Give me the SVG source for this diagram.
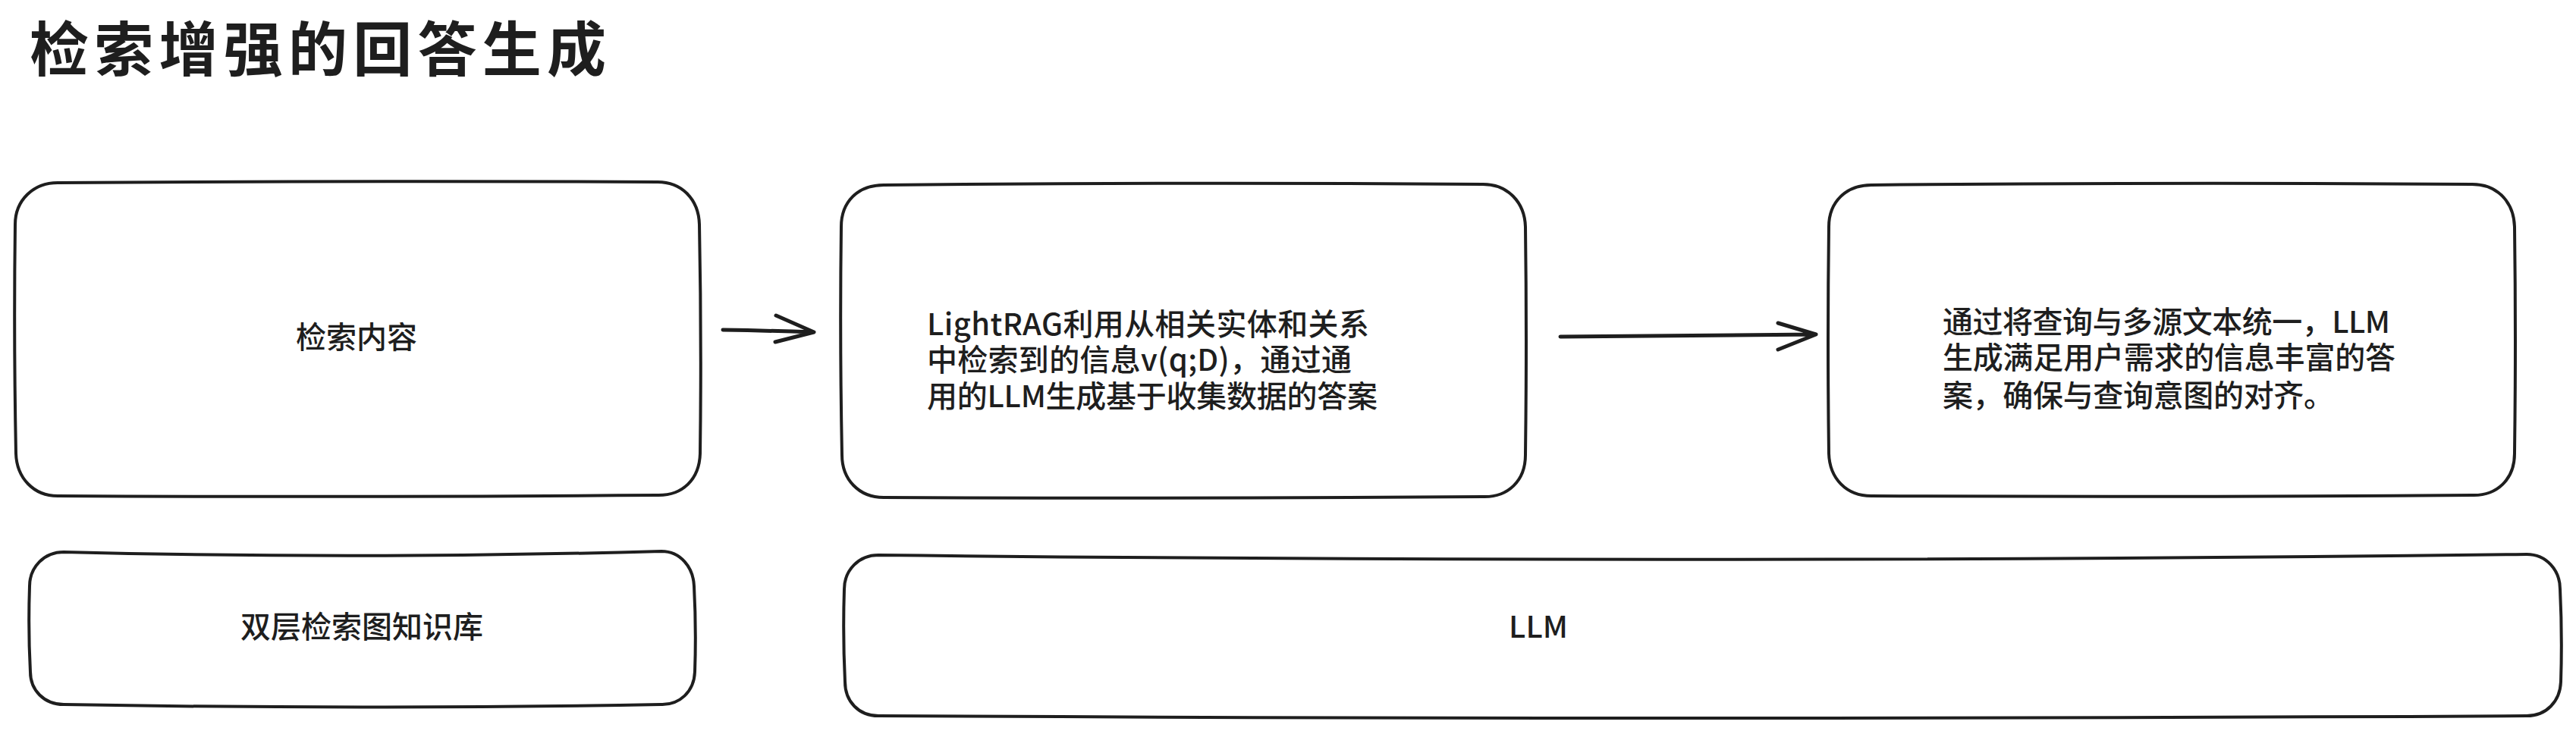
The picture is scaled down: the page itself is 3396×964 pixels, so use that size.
<svg xmlns="http://www.w3.org/2000/svg" width="3396" height="964" viewBox="0 0 3396 964">
<style>
.box{fill:#ffffff;stroke:#1e1e1e;stroke-width:4;stroke-linejoin:round}
.con{fill:none;stroke:#1e1e1e;stroke-width:5;stroke-linecap:round;stroke-linejoin:round}
.t{font-family:"Noto Sans CJK SC","Noto Sans",sans-serif;font-size:40px;fill:#1e1e1e;font-weight:500}
.c{text-anchor:middle}
.title{font-family:"Noto Sans CJK SC","Noto Sans",sans-serif;font-size:78px;fill:#1e1e1e;font-weight:700}
</style>
<rect width="3396" height="964" fill="#ffffff"/>
<g id="title">
<text class="title" x="39" y="94" textLength="760" lengthAdjust="spacing">检索增强的回答生成</text>
</g>
<g id="node-retrieval-content">
<path class="box" d="M76,241 Q470,238 867,240 C898,240 921,262 922,296 Q925,447 923,598 C922,632 900,654 866,653 Q470,656 76,654 C44,654 22,630 21,598 Q18,447 20,296 C20,264 44,241 76,241 Z"/>
<text class="t c" x="470" y="459">检索内容</text>
</g>
<g id="node-lightrag">
<path class="box" d="M1165,244 Q1560,240 1955,243 C1988,243 2010,267 2011,299 Q2013,450 2011,600 C2011,634 1988,656 1955,655 Q1560,658 1165,656 C1132,656 1110,632 1110,600 Q1107,450 1109,299 C1109,266 1131,244 1165,244 Z"/>
<text class="t"><tspan x="1222" y="442" textLength="583" lengthAdjust="spacing">LightRAG利用从相关实体和关系</tspan><tspan x="1222" y="489" textLength="560" lengthAdjust="spacing">中检索到的信息v(q;D)，通过通</tspan><tspan x="1222" y="537" textLength="594" lengthAdjust="spacing">用的LLM生成基于收集数据的答案</tspan></text>
</g>
<g id="node-answer">
<path class="box" d="M2467,244 Q2860,240 3259,243 C3292,243 3314,266 3315,299 Q3317,450 3315,598 C3315,632 3292,654 3259,653 Q2860,656 2467,654 C2434,654 2412,631 2411,598 Q2409,450 2411,299 C2411,266 2434,244 2467,244 Z"/>
<text class="t"><tspan x="2561" y="439" textLength="590" lengthAdjust="spacing">通过将查询与多源文本统一，LLM</tspan><tspan x="2561" y="486" textLength="597" lengthAdjust="spacing">生成满足用户需求的信息丰富的答</tspan><tspan x="2561" y="536" textLength="516" lengthAdjust="spacing">案，确保与查询意图的对齐。</tspan></text>
</g>
<g id="node-kg">
<path class="box" d="M84,728 Q478,738 872,727 C897,727 914,748 915,773 Q918,830 916,886 C915,912 896,930 871,929 Q478,936 84,929 C58,929 40,910 40,886 Q37,830 39,773 C39,748 58,728 84,728 Z"/>
<text class="t c" x="477" y="841">双层检索图知识库</text>
</g>
<g id="node-llm">
<path class="box" d="M1158,732 Q2245,744 3331,731 C3357,731 3375,752 3375,777 Q3378,838 3376,899 C3375,925 3357,944 3331,944 Q2245,950 1158,944 C1132,944 1114,925 1114,899 Q1111,838 1113,777 C1113,752 1132,732 1158,732 Z"/>
<text class="t c" x="2028" y="841">LLM</text>
</g>
<g id="connectors">
<path class="con" d="M953,435 Q1013,436 1073,438 M1023,416 L1073,438 L1022,451"/>
<path class="con" d="M2057,444 Q2225,443 2394,441 M2344,426 L2394,441 L2344,461"/>
</g>
</svg>
